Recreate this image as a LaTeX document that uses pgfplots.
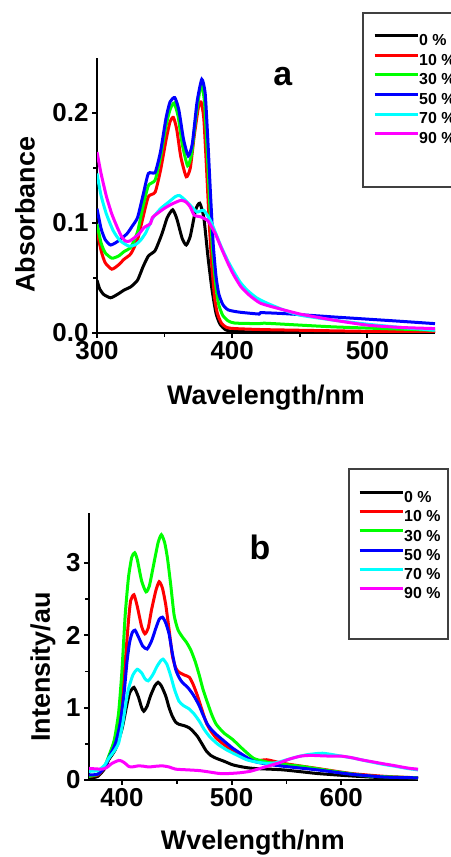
\documentclass[border=0pt]{standalone}
\usepackage{pgfplots}
\pgfplotsset{compat=1.18}
\usepackage{fontspec}
\setmainfont{Liberation Sans}

\definecolor{cR}{RGB}{255,0,0}
\definecolor{cG}{RGB}{0,255,0}
\definecolor{cB}{RGB}{0,0,255}
\definecolor{cC}{RGB}{0,255,255}
\definecolor{cM}{RGB}{255,0,255}

\pgfplotsset{
  spec/.style={
    scale only axis,
    axis lines*=left,
    axis line style={line width=2.5bp},
    tick align=outside,
    major tick length=5bp,
    minor tick length=4bp,
    major tick style={line width=2bp,black},
    minor tick style={line width=1.6bp,black},
    minor tick num=1,
    /pgf/number format/assume math mode=true,
    ticklabel style={font=\bfseries\fontsize{26}{26}\selectfont},
    label style={font=\bfseries\fontsize{27}{27}\selectfont},
    every axis plot/.append style={line width=3bp, smooth, tension=0.35},
    legend cell align=left,
    legend image code/.code={\draw[#1] (0bp,5.7bp) -- (43bp,5.7bp);},
    legend style={draw=none, fill=none, anchor=north west, inner sep=0pt,
      row sep=0pt, column sep=0bp,
      nodes={inner sep=0pt, text height=14bp, font=\bfseries\fontsize{16}{16}\selectfont}},
  },
}

\begin{document}
\begin{tikzpicture}[x=1bp,y=1bp]

% ---- panel a: absorption ----
\begin{axis}[spec,
  at={(97bp,524bp)}, anchor=south west,
  width=338bp, height=275bp,
  xmin=300, xmax=550, ymin=0, ymax=0.25,
  xtick={300,400,500}, ytick={0,0.1,0.2},
  yticklabel style={/pgf/number format/.cd,fixed,precision=1,fixed zerofill},
  xlabel={Wavelength/nm}, ylabel={Absorbance},
  xlabel style={at={(axis description cs:0.5,-0.236)}, anchor=center},
  ylabel style={at={(axis description cs:-0.213,0.43)}, anchor=center},
  legend style={at={(axis description cs:0.8166,1.0967)}, nodes={text depth=5.6bp}},
]
\addplot[black] coordinates {(300,0.048)(302,0.040)(305,0.035)(310,0.032)(315,0.035)(320,0.039)(325,0.042)(330,0.048)(334,0.060)(338,0.070)(343,0.075)(348,0.090)(352,0.105)(356,0.112)(359,0.104)(363,0.086)(366,0.080)(369,0.088)(373,0.112)(376,0.118)(379,0.105)(382,0.070)(385,0.040)(388,0.018)(391,0.008)(395,0.003)(400,0.0015)(420,0.001)(550,0.0005)};
\addplot[cR] coordinates {(300,0.093)(303,0.075)(306,0.064)(311,0.058)(316,0.062)(320,0.067)(325,0.072)(330,0.085)(334,0.105)(338,0.124)(343,0.128)(347,0.148)(351,0.175)(354,0.192)(356.5,0.196)(359,0.185)(362,0.160)(366,0.142)(369,0.150)(372,0.180)(375,0.205)(377,0.210)(379,0.195)(381,0.150)(383,0.100)(385,0.060)(387,0.032)(389,0.018)(392,0.009)(396,0.005)(402,0.004)(426,0.003)(500,0.0015)(550,0.001)};
\addplot[cG] coordinates {(300,0.099)(303,0.082)(306,0.073)(311,0.068)(316,0.070)(320,0.074)(325,0.078)(330,0.092)(334,0.115)(338,0.134)(343,0.139)(347,0.160)(351,0.188)(354,0.203)(357,0.209)(360,0.197)(363,0.172)(367,0.152)(370,0.163)(373,0.195)(376,0.220)(377.5,0.225)(379.5,0.210)(381.5,0.165)(383.5,0.115)(385.5,0.075)(388,0.042)(390,0.026)(393,0.016)(397,0.011)(402,0.009)(420,0.0085)(426,0.0088)(476,0.0055)(550,0.0025)};
\addplot[cB] coordinates {(300,0.113)(303,0.095)(306,0.085)(310,0.080)(315,0.083)(322,0.090)(326,0.097)(330,0.105)(334,0.125)(338,0.145)(343,0.146)(347,0.165)(351,0.195)(354,0.210)(357.5,0.214)(360.5,0.203)(364,0.176)(367.5,0.161)(370.5,0.172)(374,0.210)(377.5,0.2306)(380,0.218)(382,0.175)(384,0.125)(386,0.080)(388,0.052)(390,0.036)(393,0.026)(397,0.021)(405,0.019)(420,0.0172)(421,0.0185)(440,0.0175)(476,0.0145)(520,0.011)(550,0.0085)};
\addplot[cC] coordinates {(300,0.145)(303,0.125)(307,0.108)(312,0.093)(317,0.084)(323.5,0.079)(328,0.080)(332,0.084)(336,0.091)(341,0.104)(347,0.113)(353,0.119)(358,0.124)(361,0.125)(365,0.121)(369,0.116)(374,0.110)(379,0.1115)(384,0.102)(388,0.090)(392,0.078)(397,0.065)(402,0.054)(406,0.046)(411,0.039)(418,0.032)(426,0.027)(440,0.020)(451,0.016)(476,0.0115)(500,0.008)(525,0.005)(550,0.0025)};
\addplot[cM] coordinates {(300,0.1645)(303,0.145)(307,0.124)(311,0.108)(315,0.096)(318,0.088)(321,0.0836)(324,0.0835)(327,0.086)(331,0.090)(335,0.096)(339.5,0.0994)(341,0.105)(345,0.109)(349.5,0.113)(355,0.117)(362,0.1206)(366,0.119)(369,0.1145)(372,0.107)(377,0.1055)(382,0.102)(385,0.096)(388,0.089)(392,0.077)(397,0.063)(401,0.053)(406.5,0.042)(413,0.034)(421,0.027)(435,0.022)(451,0.017)(476,0.0115)(501,0.007)(525,0.005)(550,0.004)};
\legend{0 \%,10 \%,30 \%,50 \%,70 \%,90 \%}
\node[font=\bfseries\fontsize{34}{34}\selectfont] at (axis description cs:0.55,0.931) {a};
\end{axis}

% ---- panel b: emission ----
\begin{axis}[spec,
  at={(89bp,77bp)}, anchor=south west,
  width=329bp, height=267bp,
  xmin=370, xmax=670, ymin=0, ymax=3.69,
  xtick={400,500,600}, ytick={0,1,2,3},
  xlabel={Wvelength/nm}, ylabel={Intensity/au},
  xlabel style={at={(axis description cs:0.498,-0.236)}, anchor=center},
  ylabel style={at={(axis description cs:-0.14,0.423)}, anchor=center},
  legend style={at={(axis description cs:0.8176,1.0921)}, nodes={text depth=5.2bp}},
]
\addplot[black] coordinates {(370,0.02)(378,0.05)(384,0.15)(388,0.28)(394,0.42)(400,0.70)(404,1.00)(407,1.20)(411,1.28)(415,1.15)(418,1.00)(420,0.95)(423,1.02)(426,1.16)(430,1.30)(433,1.35)(436,1.30)(440,1.16)(443,1.00)(446,0.88)(449,0.80)(452,0.77)(457,0.75)(461.5,0.72)(465,0.67)(469,0.60)(473,0.50)(477,0.40)(481,0.34)(486,0.30)(493,0.26)(501,0.21)(510,0.18)(520,0.16)(547,0.14)(578,0.09)(609,0.056)(640,0.03)(670,0.02)};
\addplot[cR] coordinates {(370,0.05)(378,0.07)(384,0.17)(388,0.30)(393,0.45)(397,0.70)(400,1.10)(403,1.63)(406,2.20)(408,2.48)(411,2.56)(414,2.40)(418,2.12)(421,2.02)(424,2.10)(427,2.35)(431,2.62)(434,2.74)(437,2.65)(440,2.42)(443,2.08)(446,1.72)(449,1.55)(452,1.49)(457,1.45)(461.5,1.42)(465,1.32)(469,1.16)(473,0.97)(477,0.79)(481,0.68)(486,0.58)(493,0.49)(501,0.40)(510,0.33)(520,0.26)(532,0.28)(547,0.23)(578,0.16)(609,0.09)(640,0.05)(670,0.03)};
\addplot[cG] coordinates {(370,0.05)(378,0.08)(384,0.18)(388,0.33)(393,0.55)(397,0.93)(400,1.50)(403,2.28)(406,2.80)(409,3.08)(411.7,3.14)(414,3.05)(418,2.75)(422,2.60)(425,2.68)(429,2.98)(433,3.28)(436,3.39)(439,3.28)(441.5,3.07)(444.5,2.70)(447.6,2.28)(451,2.08)(455,1.98)(459,1.90)(463,1.79)(467,1.63)(470.7,1.44)(474,1.25)(478,1.07)(482,0.90)(486,0.77)(493,0.65)(501,0.56)(510,0.43)(520,0.30)(529,0.26)(538,0.23)(563,0.19)(593,0.12)(624,0.056)(650,0.04)(670,0.03)};
\addplot[cB] coordinates {(370,0.07)(378,0.08)(384,0.17)(388,0.30)(394,0.50)(398.5,0.79)(402,1.20)(404.6,1.63)(407,1.90)(409.5,2.04)(412,2.07)(415,1.98)(419,1.85)(423,1.81)(427,1.92)(431,2.10)(434,2.22)(437,2.25)(440,2.17)(443,2.02)(446,1.75)(449,1.53)(452,1.42)(455,1.35)(460,1.28)(464.5,1.19)(468,1.10)(470.7,1.02)(474,0.90)(478,0.77)(482,0.69)(486,0.63)(493,0.54)(501,0.44)(510,0.35)(520,0.26)(532,0.22)(547,0.19)(578,0.14)(609,0.08)(640,0.04)(670,0.03)};
\addplot[cC] coordinates {(370,0.12)(378,0.13)(384,0.20)(388,0.30)(393,0.40)(397,0.51)(401,0.80)(404,1.10)(406,1.26)(410,1.45)(414,1.53)(418,1.48)(421,1.40)(424,1.37)(428,1.45)(432,1.57)(435,1.64)(437.5,1.67)(441,1.60)(444.5,1.44)(448,1.25)(452,1.09)(456,1.03)(461.5,0.98)(466,0.91)(470.7,0.81)(475,0.70)(480,0.60)(487,0.50)(495,0.42)(504,0.35)(513.7,0.28)(522,0.25)(532,0.23)(541,0.24)(550.5,0.28)(560,0.32)(569,0.35)(583,0.37)(600,0.33)(612,0.30)(624,0.26)(637,0.22)(649,0.19)(660,0.16)(670,0.14)};
\addplot[cM] coordinates {(370,0.16)(381.6,0.15)(386,0.17)(391,0.23)(397,0.27)(400,0.26)(403,0.23)(406,0.19)(409,0.18)(415,0.195)(420,0.19)(424.6,0.18)(431,0.19)(437,0.195)(443,0.18)(449,0.15)(460,0.14)(470.7,0.13)(480,0.11)(489,0.09)(498,0.09)(507.5,0.10)(517,0.12)(526,0.16)(535,0.20)(544,0.24)(553,0.29)(563,0.33)(572,0.34)(581,0.335)(590,0.33)(600,0.33)(609,0.31)(618,0.28)(629,0.25)(640,0.22)(648,0.20)(655,0.18)(663,0.16)(670,0.15)};
\legend{0 \%,10 \%,30 \%,50 \%,70 \%,90 \%}
\node[font=\bfseries\fontsize{34}{34}\selectfont] at (axis description cs:0.52,0.873) {b};
\end{axis}

% legend frames
\draw[line width=1.2bp, black!75] (363,844) rectangle (462,670);
\draw[line width=1.2bp, black!75] (349,388) rectangle (448,218);

\pgfresetboundingbox
\path (0,0) rectangle (451,857);
\end{tikzpicture}
\end{document}
